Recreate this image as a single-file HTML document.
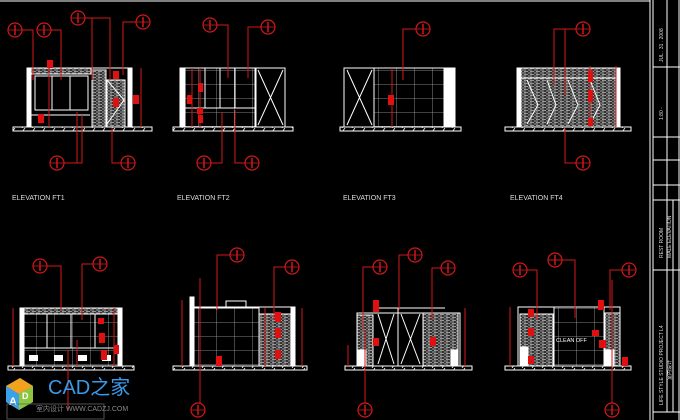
<!DOCTYPE html>
<html><head><meta charset="utf-8"><style>
html,body{margin:0;padding:0;background:#000;}
svg{display:block;}
text{font-family:"Liberation Sans","Noto Sans CJK SC",sans-serif;}
</style></head><body>
<svg width="680" height="420" viewBox="0 0 680 420" xmlns="http://www.w3.org/2000/svg">
<defs>
<g id="b"><circle r="7" fill="none" stroke="#d01818" stroke-width="1.2"/><line x1="-7" y1="0" x2="7" y2="0" stroke="#d01818" stroke-width="0.8"/><line x1="0" y1="-5" x2="0" y2="5" stroke="#d01818" stroke-width="1.5"/></g>
<pattern id="grid" width="18" height="14" patternUnits="userSpaceOnUse"><path d="M0 0H18M0 0V14" stroke="#aaa" stroke-width="0.8" fill="none"/></pattern>
<pattern id="stone" width="6" height="3" patternUnits="userSpaceOnUse"><rect width="6" height="3" fill="#333"/><path d="M0 1H4M2 2.5H6" stroke="#bbb" stroke-width="0.7"/></pattern>
<pattern id="gnd" width="10" height="4" patternUnits="userSpaceOnUse"><path d="M2 4L5 0" stroke="#fff" stroke-width="0.8"/></pattern>
</defs>
<rect width="680" height="420" fill="#000"/>
<line x1="0" y1="1" x2="650" y2="1" stroke="#fff" stroke-width="1"/>

<g stroke="#fff" fill="none" stroke-width="1">
<rect x="13" y="127" width="139" height="4" fill="url(#gnd)"/>
<line x1="13" y1="127" x2="152" y2="127"/><line x1="13" y1="131" x2="152" y2="131"/>
<rect x="27" y="68" width="105" height="59"/>
<rect x="27" y="68" width="4" height="59" fill="#fff"/>
<rect x="128" y="68" width="4" height="59" fill="#fff"/>
<rect x="31" y="68" width="60" height="6" fill="url(#stone)"/>
<rect x="35" y="76" width="53" height="34"/><line x1="52" y1="76" x2="52" y2="110"/><line x1="70" y1="76" x2="70" y2="110"/>
<line x1="31" y1="115" x2="90" y2="115"/>
<rect x="92" y="70" width="14" height="57" fill="url(#stone)"/>
<rect x="107" y="80" width="18" height="47" fill="url(#stone)"/>
<path d="M107 80L124 100L107 124"/>
<rect x="173" y="127" width="120" height="4" fill="url(#gnd)"/>
<line x1="173" y1="127" x2="293" y2="127"/><line x1="173" y1="131" x2="293" y2="131"/>
<rect x="180" y="68" width="105" height="59"/>
<rect x="180" y="68" width="5" height="59" fill="#fff"/>
<rect x="185" y="68" width="70" height="59" fill="url(#grid)"/>
<line x1="205" y1="68" x2="205" y2="108"/><line x1="220" y1="68" x2="220" y2="108"/><line x1="235" y1="68" x2="235" y2="108"/>
<line x1="185" y1="108" x2="255" y2="108"/>
<line x1="256" y1="68" x2="256" y2="127"/><path d="M258 70L283 125M283 70L258 125"/>
<rect x="340" y="127" width="121" height="4" fill="url(#gnd)"/>
<line x1="340" y1="127" x2="461" y2="127"/><line x1="340" y1="131" x2="461" y2="131"/>
<rect x="344" y="68" width="111" height="59"/>
<path d="M347 70L372 125M372 70L347 125"/>
<rect x="374" y="68" width="70" height="59" fill="url(#grid)"/>
<rect x="444" y="68" width="11" height="59" fill="#fff"/>
<rect x="505" y="127" width="126" height="4" fill="url(#gnd)"/>
<line x1="505" y1="127" x2="631" y2="127"/><line x1="505" y1="131" x2="631" y2="131"/>
<rect x="517" y="68" width="103" height="59" fill="url(#stone)"/>
<rect x="517" y="68" width="4" height="59" fill="#fff"/><rect x="616" y="68" width="4" height="59" fill="#fff"/>
<path d="M527 80L538 105L527 124M547 80L556 105L547 124M568 80L578 105L568 124M590 80L600 105L590 124"/>
<line x1="521" y1="78" x2="616" y2="78"/>
</g>
<g fill="#e01010">
<rect x="47" y="60" width="6" height="8"/><rect x="38" y="114" width="6" height="9"/><rect x="113" y="71" width="6" height="8"/><rect x="113" y="98" width="6" height="9"/><rect x="133" y="95" width="6" height="9"/>
<rect x="187" y="95" width="5" height="9"/><rect x="198" y="83" width="5" height="9"/><rect x="197" y="108" width="6" height="6"/><rect x="198" y="115" width="5" height="8"/>
<rect x="388" y="95" width="6" height="10"/>
<rect x="588" y="70" width="5" height="12"/><rect x="588" y="90" width="5" height="12"/><rect x="588" y="118" width="5" height="8"/>
</g>
<g stroke="#d01818" fill="none" stroke-width="1">
<path d="M22 30H33V80M51 30H61V80M85 18H110V80M92 18V80M136 22H123V75M64 163H82V115M77 163V112M121 163H112V128"/>
<line x1="141" y1="68" x2="141" y2="127"/><line x1="49" y1="68" x2="49" y2="127"/>
<path d="M217 25H228V78M261 27H248V78M211 163H222V112M245 163H235V110"/>
<line x1="192" y1="68" x2="192" y2="127"/><line x1="200" y1="68" x2="200" y2="127"/>
<path d="M416 29H403V80"/><line x1="392" y1="68" x2="392" y2="127"/>
<path d="M576 29H554V85M565 29V95M576 163H565V128"/>
<line x1="616" y1="66" x2="616" y2="127"/><line x1="590" y1="66" x2="590" y2="127"/>
</g>
<g>
<use href="#b" x="15" y="30"/><use href="#b" x="44" y="30"/><use href="#b" x="78" y="18"/><use href="#b" x="143" y="22"/><use href="#b" x="57" y="163"/><use href="#b" x="128" y="163"/>
<use href="#b" x="210" y="25"/><use href="#b" x="268" y="27"/><use href="#b" x="204" y="163"/><use href="#b" x="252" y="163"/>
<use href="#b" x="423" y="29"/>
<use href="#b" x="583" y="29"/><use href="#b" x="583" y="163"/>
</g>
<g fill="#ddd" font-size="7">
<text x="12" y="200">ELEVATION FT1</text>
<text x="177" y="200">ELEVATION FT2</text>
<text x="343" y="200">ELEVATION FT3</text>
<text x="510" y="200">ELEVATION FT4</text>
</g>

<g stroke="#fff" fill="none" stroke-width="1">
<rect x="8" y="366" width="126" height="4" fill="url(#gnd)"/>
<line x1="8" y1="366" x2="134" y2="366"/><line x1="8" y1="370" x2="134" y2="370"/>
<rect x="20" y="308" width="102" height="58"/>
<rect x="20" y="308" width="4" height="58" fill="#fff"/><rect x="118" y="308" width="4" height="58" fill="#fff"/>
<rect x="24" y="308" width="94" height="6" fill="url(#stone)"/>
<rect x="24" y="314" width="94" height="52" fill="url(#grid)"/>
<line x1="24" y1="348" x2="118" y2="348"/><line x1="47" y1="314" x2="47" y2="348"/><line x1="71" y1="314" x2="71" y2="348"/><line x1="95" y1="314" x2="95" y2="348"/>
</g>
<g fill="#fff"><rect x="29" y="355" width="9" height="6"/><rect x="54" y="355" width="9" height="6"/><rect x="78" y="355" width="9" height="6"/><rect x="102" y="355" width="9" height="6"/></g>
<g stroke="#fff" fill="none" stroke-width="1">
<rect x="173" y="366" width="134" height="4" fill="url(#gnd)"/>
<line x1="173" y1="366" x2="307" y2="366"/><line x1="173" y1="370" x2="307" y2="370"/>
<rect x="190" y="307" width="105" height="59"/>
<rect x="190" y="297" width="4" height="69" fill="#fff"/>
<rect x="194" y="308" width="65" height="58" fill="url(#grid)"/>
<rect x="226" y="301" width="20" height="6"/>
<rect x="259" y="314" width="36" height="52" fill="url(#stone)"/><rect x="291" y="308" width="4" height="58" fill="#fff"/>
<rect x="345" y="366" width="127" height="4" fill="url(#gnd)"/>
<line x1="345" y1="366" x2="472" y2="366"/><line x1="345" y1="370" x2="472" y2="370"/>
<rect x="357" y="313" width="103" height="53"/>
<rect x="357" y="315" width="16" height="51" fill="url(#stone)"/>
<path d="M378 314L394 364M394 314L378 364M401 314L420 364M420 314L401 364"/>
<line x1="398" y1="308" x2="398" y2="366"/><line x1="373" y1="308" x2="445" y2="308"/>
<rect x="423" y="313" width="35" height="53" fill="url(#stone)"/>
<rect x="358" y="350" width="8" height="16" fill="#fff"/><rect x="451" y="350" width="6" height="16" fill="#fff"/>
<rect x="505" y="366" width="126" height="4" fill="url(#gnd)"/>
<line x1="505" y1="366" x2="631" y2="366"/><line x1="505" y1="370" x2="631" y2="370"/>
<rect x="518" y="307" width="102" height="59"/>
<rect x="520" y="314" width="33" height="52" fill="url(#stone)"/>
<rect x="554" y="307" width="50" height="59" fill="url(#grid)"/>
<rect x="605" y="313" width="15" height="53" fill="url(#stone)"/>
<rect x="520" y="347" width="8" height="19" fill="#fff"/><rect x="606" y="350" width="8" height="16" fill="#fff"/>
</g>
<text x="556" y="342" fill="#fff" font-size="5.5">CLEAN OFF</text>
<g fill="#e01010">
<rect x="98" y="318" width="6" height="6"/><rect x="99" y="333" width="6" height="10"/><rect x="101" y="350" width="6" height="10"/><rect x="114" y="345" width="5" height="9"/>
<rect x="216" y="356" width="6" height="10"/><rect x="275" y="312" width="6" height="10"/><rect x="275" y="328" width="6" height="10"/><rect x="275" y="350" width="6" height="9"/>
<rect x="373" y="300" width="6" height="12"/><rect x="373" y="338" width="6" height="8"/><rect x="430" y="337" width="6" height="9"/>
<rect x="528" y="309" width="6" height="8"/><rect x="528" y="328" width="6" height="8"/><rect x="528" y="356" width="6" height="8"/><rect x="592" y="330" width="7" height="6"/><rect x="599" y="340" width="7" height="8"/><rect x="622" y="357" width="6" height="9"/><rect x="598" y="300" width="6" height="10"/>
</g>
<g stroke="#d01818" fill="none" stroke-width="1">
<path d="M47 266H61V310M93 264H82V320M68 350V410M77 340V366"/>
<line x1="13" y1="308" x2="13" y2="366"/><line x1="114" y1="308" x2="114" y2="366"/>
<path d="M230 255H217V310M200 278V403M285 267H274V320"/>
<line x1="182" y1="300" x2="182" y2="366"/><line x1="302" y1="308" x2="302" y2="366"/><line x1="265" y1="308" x2="265" y2="366"/>
<path d="M373 267H363V330M365 330V403M408 255H399V310M441 268H432V320"/>
<line x1="465" y1="308" x2="465" y2="366"/><line x1="348" y1="345" x2="348" y2="366"/>
<path d="M527 270H537V320M548 260H575V318M622 270H610V310M612 280V403"/>
<line x1="510" y1="307" x2="510" y2="366"/>
</g>
<g>
<use href="#b" x="40" y="266"/><use href="#b" x="100" y="264"/>
<use href="#b" x="237" y="255"/><use href="#b" x="292" y="267"/><use href="#b" x="198" y="410"/>
<use href="#b" x="380" y="267"/><use href="#b" x="415" y="255"/><use href="#b" x="448" y="268"/><use href="#b" x="365" y="410"/>
<use href="#b" x="520" y="270"/><use href="#b" x="555" y="260"/><use href="#b" x="629" y="270"/><use href="#b" x="612" y="410"/>
</g>

<g stroke="#fff" fill="none" stroke-width="1">
<line x1="650" y1="0" x2="650" y2="420"/><line x1="653" y1="0" x2="653" y2="420"/>
<line x1="679" y1="0" x2="679" y2="420"/>
<line x1="667" y1="0" x2="667" y2="412"/>
<line x1="653" y1="67" x2="680" y2="67"/><line x1="653" y1="137" x2="680" y2="137"/>
<line x1="653" y1="160" x2="680" y2="160"/><line x1="653" y1="185" x2="680" y2="185"/>
<line x1="653" y1="200" x2="680" y2="200"/><line x1="653" y1="270" x2="680" y2="270"/>
<line x1="653" y1="412" x2="680" y2="412"/>
<line x1="673" y1="200" x2="673" y2="412"/>
</g>
<g fill="#ddd" font-size="5">
<text transform="translate(663,62) rotate(-90)">JUL . 31 . 2008</text>
<text transform="translate(663,120) rotate(-90)">1:80 -</text>
<text transform="translate(663,258) rotate(-90)">REST ROOM</text>
<text transform="translate(671,258) rotate(-90)">MALE ELEVATION</text>
<text transform="translate(663,405) rotate(-90)">LIFE STYLE STUDIO PROJECT L4</text>
<text transform="translate(671,380) rotate(-90)">室内设计</text>
</g>

<g>
<polygon points="6,386 20,378 33,386 33,402 19,410 6,402" fill="#2a8ee0"/>
<polygon points="6,386 20,378 33,386 19,394" fill="#f2a21d"/>
<polygon points="19,394 33,386 33,402 19,410" fill="#8cc63f"/>
<polygon points="6,386 19,394 19,410 6,402" fill="#3aa0e8"/>
<text x="9" y="405" fill="#fff" font-size="11" font-weight="bold">A</text>
<text x="22" y="399" fill="#fff" font-size="9" font-weight="bold">D</text>
<text x="48" y="394" fill="#3a9ae8" font-size="20">CAD之家</text>
<rect x="7" y="404" width="97" height="15" fill="none" stroke="#666" stroke-width="0.8"/>
<text x="36" y="411" fill="#888" font-size="7">室内设计 WWW.CADZJ.COM</text>
</g>
</svg>
</body></html>
